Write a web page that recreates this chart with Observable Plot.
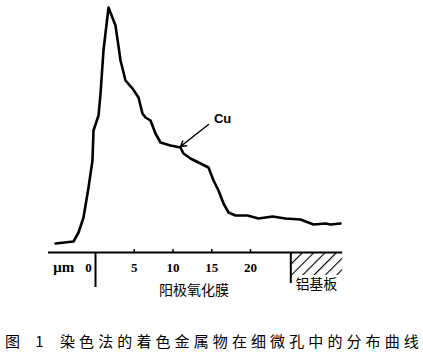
<!DOCTYPE html>
<html>
<head>
<meta charset="utf-8">
<script src="https://cdn.jsdelivr.net/npm/d3@7"></script>
<script src="https://cdn.jsdelivr.net/npm/@observablehq/plot@0.6"></script>
<style>
  body { margin: 0; background: #fff; position: relative; width: 423px; height: 357px; overflow: hidden; }
  .cap { position: absolute; top: 332px; font-family: "Noto Sans CJK SC", sans-serif; font-size: 15px; line-height: 18px; color: #000; white-space: nowrap; }
  #capNum { left: 5px; letter-spacing: 6px; }
  #capText { left: 60px; letter-spacing: 4.1px; }
</style>
</head>
<body>
<div id="chart"></div>
<div class="cap" id="capNum">图 1</div>
<div class="cap" id="capText">染色法的着色金属物在细微孔中的分布曲线</div>
<script>
// depth in µm (negative = electrolyte side), relative intensity of Cu
const depth = [-5.16, -2.84, -2.19, -1.55, -0.90, -0.39, -0.26, 0.39, 0.65, 1.03, 1.68, 2.58, 3.23, 3.87, 4.77, 5.55, 6.06, 6.45, 7.10, 7.74, 8.39, 9.68, 10.97, 11.35, 12.26, 13.29, 14.58, 15.23, 15.87, 16.52, 17.16, 18.06, 19.61, 21.03, 22.84, 24.52, 26.45, 28.13, 29.68, 30.32, 31.61];
const intensity = [9, 11, 20, 35, 65, 92, 122, 137, 159, 202, 245, 227, 192, 172, 164, 155, 139, 135, 132, 119, 110, 107, 105, 99, 94, 90, 85, 72, 62, 49, 40, 37, 37, 34, 36, 34, 33, 28, 29, 28, 29];
const tickValues = [5, 10, 15, 20];
const tickLabels = ["5", "10", "15", "20"];
const axisExtent = [-6.06, 31.9];
const filmStart = 0;
const substrate = [25.2, 31.9];
const unitLabel = "μm";
const filmLabel = "阳极氧化膜";
const substrateLabel = "铝基板";
const seriesLabel = "Cu";
const cuArrow = {x1: 14.58, y1: 128, x2: 10.97, y2: 106};
const cuLabelPos = {x: 16.4, y: 134};

const curve = depth.map((d, i) => ({x: d, y: intensity[i]}));
const ticks = tickValues.map((v, i) => ({x: v, label: tickLabels[i]}));

const serif = "'Liberation Serif', 'DejaVu Serif', serif";
const cjk = "'Noto Sans CJK SC', sans-serif";

const plot = Plot.plot({
  width: 423,
  height: 322,
  x: {domain: [-6, 32], range: [95 - 6 * 7.75, 95 + 32 * 7.75], axis: null},
  y: {domain: [0, 250], range: [252, 2], axis: null},
  style: {background: "transparent"},
  marks: [
    Plot.rect([{x1: substrate[0], x2: substrate[1], y1: -23, y2: 0}], {x1: "x1", x2: "x2", y1: "y1", y2: "y2", fill: "url(#hatch)"}),
    Plot.ruleY([0], {x1: axisExtent[0], x2: axisExtent[1], stroke: "#000", strokeWidth: 2}),
    Plot.ruleX(ticks, {x: "x", y1: 0, y2: 3, stroke: "#000", strokeWidth: 1.5}),
    Plot.ruleX([filmStart], {y1: 0, y2: -35, stroke: "#000", strokeWidth: 2}),
    Plot.ruleX([substrate[0]], {y1: 0, y2: -31, stroke: "#000", strokeWidth: 2}),
    Plot.line(curve, {x: "x", y: "y", stroke: "#000", strokeWidth: 2.6, strokeLinejoin: "round"}),
    Plot.text(ticks, {x: "x", y: -15, text: "label", fontFamily: serif, fontSize: 13, fontWeight: "bold", fill: "#000"}),
    Plot.text(["0"], {x: -0.9, y: -15, text: d => d, fontFamily: serif, fontSize: 13, fontWeight: "bold", fill: "#000"}),
    Plot.text([unitLabel], {x: -4.1, y: -15, text: d => d, fontFamily: serif, fontSize: 15, fontWeight: "bold", fill: "#000"}),
    Plot.text([filmLabel], {x: 12.7, y: -38, text: d => d, fontFamily: cjk, fontSize: 14, fill: "#000"}),
    Plot.text([substrateLabel], {x: 28.5, y: -32, text: d => d, fontFamily: cjk, fontSize: 14, fill: "#000"}),
    Plot.arrow([cuArrow], {x1: "x1", y1: "y1", x2: "x2", y2: "y2", stroke: "#000", strokeWidth: 1.5, headLength: 6}),
    Plot.text([seriesLabel], {x: cuLabelPos.x, y: cuLabelPos.y, text: d => d, fontFamily: "'Liberation Sans', Arial, sans-serif", fontSize: 13, fontWeight: "bold", fill: "#000"})
  ]
});

const svg = d3.select(plot);
const defs = svg.insert("defs", ":first-child");
const pat = defs.append("pattern")
  .attr("id", "hatch")
  .attr("patternUnits", "userSpaceOnUse")
  .attr("width", 8).attr("height", 8)
  .attr("patternTransform", "rotate(45)");
pat.append("line").attr("x1", 0).attr("y1", 0).attr("x2", 0).attr("y2", 8)
  .attr("stroke", "#000").attr("stroke-width", 2.2);

document.getElementById("chart").append(plot);
</script>
</body>
</html>
